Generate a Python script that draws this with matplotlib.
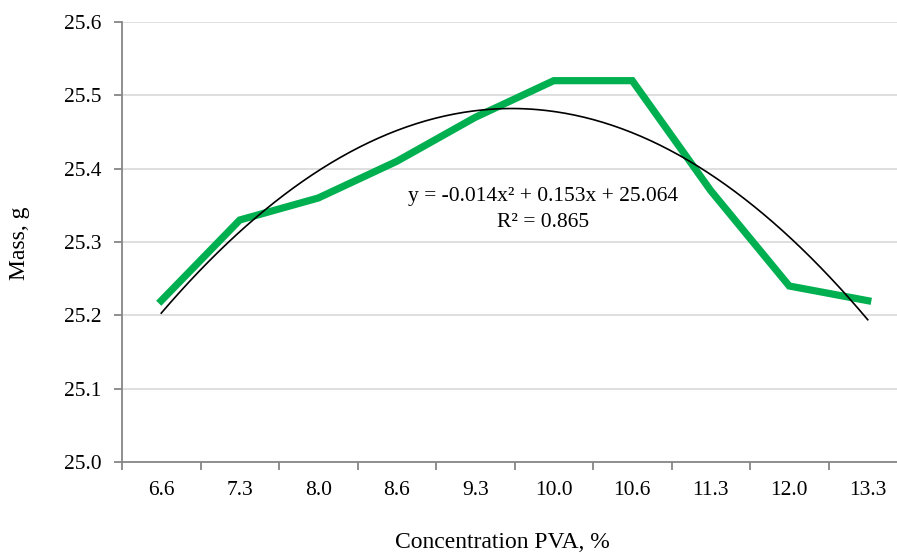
import matplotlib
matplotlib.use("Agg")
import matplotlib.pyplot as plt
import numpy as np

categories = ["6.6", "7.3", "8.0", "8.6", "9.3", "10.0", "10.6", "11.3", "12.0", "13.3"]
mass = [25.22, 25.33, 25.36, 25.41, 25.47, 25.52, 25.52, 25.37, 25.24, 25.22]
trend_coef = [-0.014, 0.153, 25.064]  # y = a x^2 + b x + c, x = 1..10
y_ticks = [25.0, 25.1, 25.2, 25.3, 25.4, 25.5, 25.6]

plt.rcParams['font.family'] = ['Liberation Serif', 'DejaVu Serif']

W, H = 897, 553
fig = plt.figure(figsize=(W / 100, H / 100), dpi=100)
left, right, top, bottom = 122, 907, 22, 462
ax = fig.add_axes([left / W, 1 - bottom / H, (right - left) / W, (bottom - top) / H])

x = np.arange(len(categories))
ax.plot(x, mass, color="#00B050", lw=5.2, solid_joinstyle="miter", zorder=3)

xs = np.linspace(1, len(categories), 300)
ys = np.polyval(trend_coef, xs)
ax.plot(xs - 1, ys, color="black", lw=1.2, zorder=4)

ax.set_xlim(-0.5, len(categories) - 0.5)
ax.set_ylim(25.0, 25.6)
ax.set_yticks(y_ticks)
ax.set_yticklabels([f"{v:.1f}" for v in y_ticks], fontsize=15.5)
ax.set_xticks(x)
ax.set_xticklabels(categories, fontsize=15.5)
ax.set_xticks(np.arange(-0.5, len(categories), 1), minor=True)
ax.tick_params(axis="x", which="major", length=0, pad=14)
ax.tick_params(axis="x", which="minor", length=6, color="#868686", width=1.3)
ax.tick_params(axis="y", length=6, color="#868686", width=1.3, pad=9)

for v in y_ticks[1:]:
    ax.axhline(v, color="#D9D9D9", lw=1.2, zorder=1)

for s in ["top", "right"]:
    ax.spines[s].set_visible(False)
for s in ["left", "bottom"]:
    ax.spines[s].set_color("#868686")
    ax.spines[s].set_linewidth(1.3)

fig.text(19 / W, 1 - 243 / H, "Mass, g", rotation=90, ha="center", va="center", fontsize=17)
fig.text(502 / W, 1 - 543 / H, "Concentration PVA, %", ha="center", va="center", fontsize=17)
fig.text(543 / W, 1 - 197 / H, "y = -0.014x\u00b2 + 0.153x + 25.064", ha="center", va="center", fontsize=15.5)
fig.text(543 / W, 1 - 222 / H, "R\u00b2 = 0.865", ha="center", va="center", fontsize=15.5)

fig.savefig("out.png", dpi=100)
